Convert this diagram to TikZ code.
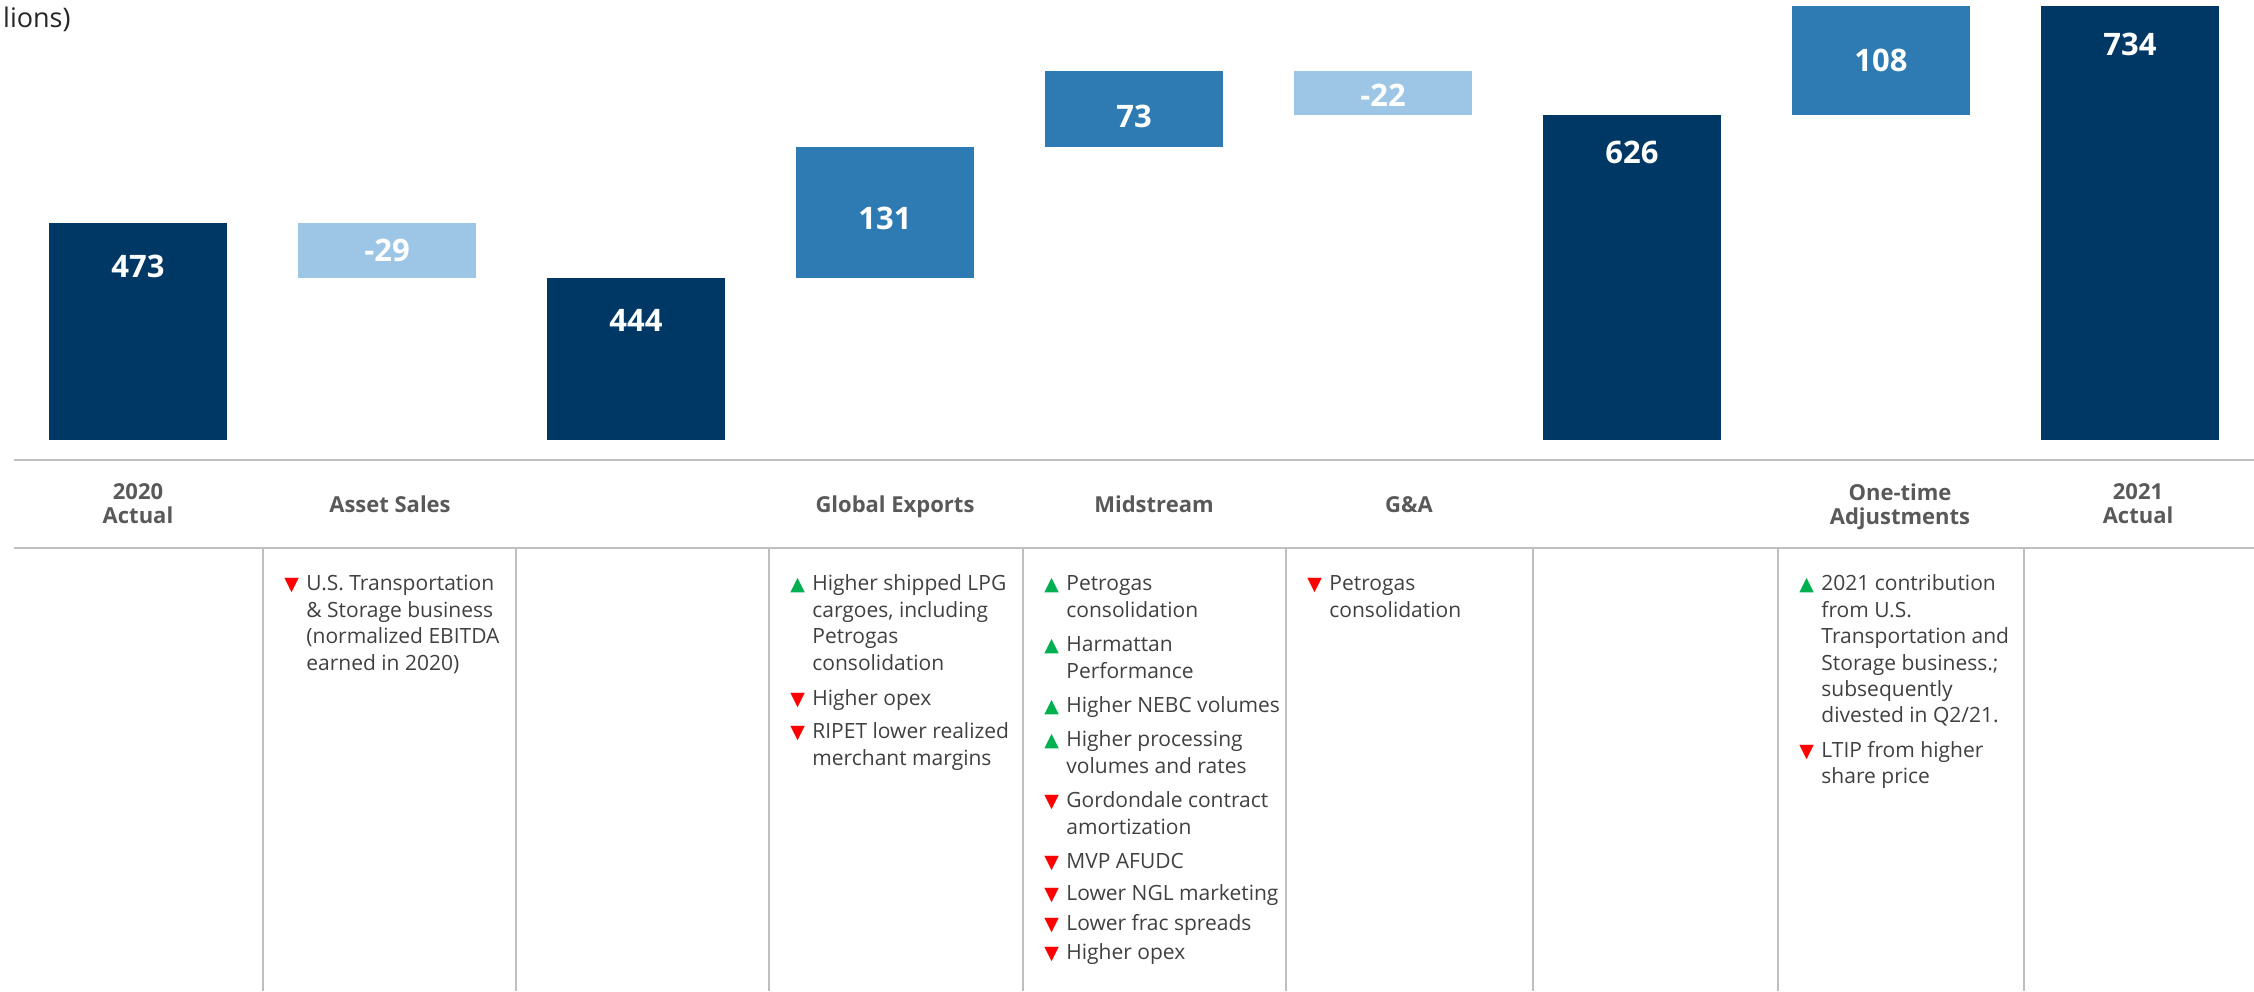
\documentclass[tikz,border=0pt]{standalone}
\usepackage{fontspec}
\setmainfont{Open Sans}
\newfontfamily\symfont{DejaVu Sans}

\definecolor{navy}{RGB}{0,56,101}
\definecolor{midblue}{RGB}{46,123,179}
\definecolor{lightblue}{RGB}{157,198,230}
\definecolor{upgreen}{RGB}{0,176,80}
\definecolor{downred}{RGB}{255,0,0}
\definecolor{gridgray}{RGB}{191,191,191}
\definecolor{headgray}{RGB}{89,89,89}
\definecolor{bodygray}{RGB}{64,64,64}

\newcommand{\upmark}{\textcolor{upgreen}{\symfont\fontsize{9.5}{9.5}\selectfont ▲}}
\newcommand{\dnmark}{\textcolor{downred}{\symfont\fontsize{9.5}{9.5}\selectfont ▼}}

\tikzset{
    gridline/.style = {draw=gridgray, line width=1.25pt},
    barlabel/.style = {text=white, font=\fontsize{15.5}{16}\selectfont\bfseries, inner sep=0pt},
    header/.style = {text=headgray, font=\fontsize{11}{12}\selectfont\bfseries, align=center, inner sep=0pt},
    notes/.style = {text=bodygray, font=\fontsize{10.5}{13.2}\selectfont, anchor=north west, inner sep=0pt}
}

\begin{document}
\begin{tikzpicture}[x=0.5pt, y=-0.5pt]
        \useasboundingbox (0,0) rectangle (2254,991);

        \node[anchor=base east, font=\fontsize{13.5}{14}\selectfont, text=black!85, inner sep=0pt] (unit) at (71,27) {lions)};

        \fill[navy] (49,223) rectangle (227,440);
        \fill[lightblue] (298,223) rectangle (476,277.5);
        \fill[navy] (547,277.5) rectangle (725,440);
        \fill[midblue] (796,147) rectangle (974,277.5);
        \fill[midblue] (1045,71) rectangle (1223,147);
        \fill[lightblue] (1294,71) rectangle (1472,115);
        \fill[navy] (1543,115) rectangle (1721,440);
        \fill[midblue] (1792,6) rectangle (1970,115);
        \fill[navy] (2041,6) rectangle (2219,440);

        \node[barlabel] (v2020) at (138,266) {473};
        \node[barlabel] (vsales) at (387,250) {-29};
        \node[barlabel] (vsub1) at (636,320) {444};
        \node[barlabel] (vexports) at (885,218) {131};
        \node[barlabel] (vmid) at (1134,116) {73};
        \node[barlabel] (vga) at (1383,95) {-22};
        \node[barlabel] (vsub2) at (1632,152) {626};
        \node[barlabel] (vonetime) at (1881,60) {108};
        \node[barlabel] (v2021) at (2130,44) {734};

        \draw[gridline] (14,460) -- (2254,460);
        \draw[gridline] (14,548) -- (2254,548);
        \foreach \x in {263,516,769,1023,1286,1533,1778,2024}
            \draw[gridline] (\x,548) -- (\x,991);

        \node[header, anchor=north] (h2020) at (138,483) {2020\\Actual};
        \node[header, anchor=base] (hsales) at (390,512) {Asset Sales};
        \node[header, anchor=base] (hexports) at (895,512) {Global Exports};
        \node[header, anchor=base] (hmid) at (1154,512) {Midstream};
        \node[header, anchor=base] (hga) at (1409,512) {G\&A};
        \node[header, anchor=north] (honetime) at (1900,483) {One-time\\Adjustments};
        \node[header, anchor=north] (h2021) at (2138,483) {2021\\Actual};

        \node[notes] (nsales) at (284,572) {%
            \begin{tabular}{@{}p{11pt}@{}l@{}}
                \dnmark & U.S. Transportation\\
                        & \& Storage business\\
                        & (normalized EBITDA\\
                        & earned in 2020)
            \end{tabular}};
        \node[notes] (nexports) at (790,572) {%
            \begin{tabular}{@{}p{11pt}@{}l@{}}
                \upmark & Higher shipped LPG\\
                        & cargoes, including\\
                        & Petrogas\\
                        & consolidation\\[4.5pt]
                \dnmark & Higher opex\\[3.5pt]
                \dnmark & RIPET lower realized\\
                        & merchant margins
            \end{tabular}};
        \node[notes] (nmid) at (1044,572) {%
            \begin{tabular}{@{}p{11pt}@{}l@{}}
                \upmark & Petrogas\\
                        & consolidation\\[4pt]
                \upmark & Harmattan\\
                        & Performance\\[4pt]
                \upmark & Higher NEBC volumes\\[4pt]
                \upmark & Higher processing\\
                        & volumes and rates\\[4pt]
                \dnmark & Gordondale contract\\
                        & amortization\\[4pt]
                \dnmark & MVP AFUDC\\[3pt]
                \dnmark & Lower NGL marketing\\[1.5pt]
                \dnmark & Lower frac spreads\\[1.5pt]
                \dnmark & Higher opex
            \end{tabular}};
        \node[notes] (nga) at (1307,572) {%
            \begin{tabular}{@{}p{11pt}@{}l@{}}
                \dnmark & Petrogas\\
                        & consolidation
            \end{tabular}};
        \node[notes] (nonetime) at (1799,572) {%
            \begin{tabular}{@{}p{11pt}@{}l@{}}
                \upmark & 2021 contribution\\
                        & from U.S.\\
                        & Transportation and\\
                        & Storage business.;\\
                        & subsequently\\
                        & divested in Q2/21.\\[4pt]
                \dnmark & LTIP from higher\\
                        & share price
            \end{tabular}};
\end{tikzpicture}
\end{document}
